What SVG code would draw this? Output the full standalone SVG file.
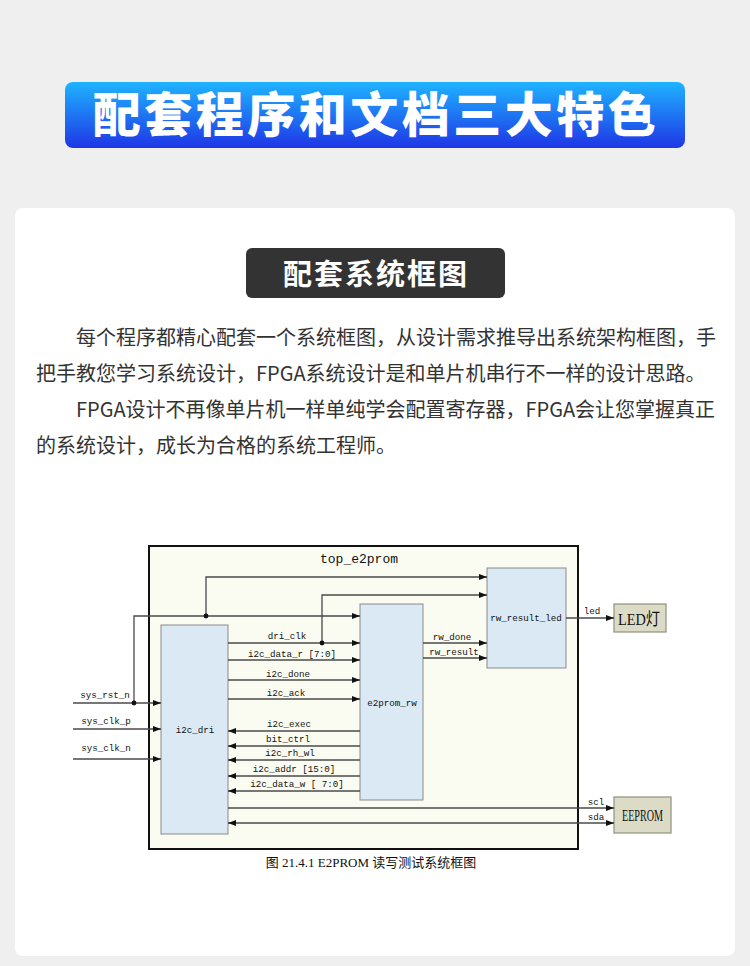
<svg xmlns="http://www.w3.org/2000/svg" width="750" height="966" viewBox="0 0 750 966">
<defs>
<linearGradient id="bannerGrad" x1="0" y1="0" x2="0" y2="1">
<stop offset="0" stop-color="#1fb4ff"/>
<stop offset="1" stop-color="#1e36e6"/>
</linearGradient>
<marker id="arr" markerUnits="userSpaceOnUse" markerWidth="8" markerHeight="6" refX="8" refY="3" orient="auto-start-reverse">
<path d="M0,0 L8,3 L0,6 z" fill="#111"/>
</marker>
<style>
.cjk{font-family:"Noto Sans CJK SC","Noto Sans",sans-serif;}
.para{font-family:"Noto Sans CJK SC","Noto Sans",sans-serif;font-size:20px;fill:#333;}
.sig{font-family:"Liberation Mono","DejaVu Sans Mono",monospace;font-size:9.2px;fill:#111;text-anchor:middle;}
.box{fill:#dae9f3;stroke:#8a8a8a;stroke-width:1;}
.ext{fill:#dcdcc6;stroke:#8f8f80;stroke-width:1.2;}
.w{fill:none;stroke:#4a4a4a;stroke-width:1.3;}
.wa{fill:none;stroke:#4a4a4a;stroke-width:1.3;marker-end:url(#arr);}
.dot{fill:#111;}
.ser{font-family:"Liberation Serif","Noto Sans CJK SC",serif;fill:#111;}
</style>
</defs>
<rect x="0" y="0" width="750" height="966" fill="#efefef"/>
<g id="banner">
<rect x="65" y="82" width="620" height="66" rx="8" fill="url(#bannerGrad)"/>
<text x="376" y="132" text-anchor="middle" class="cjk" font-size="48" font-weight="900" fill="#fff" letter-spacing="3.5">配套程序和文档三大特色</text>
</g>
<rect x="15" y="208" width="720" height="748" rx="8" fill="#fff"/>
<g id="sectionLabel">
<rect x="246" y="248" width="259" height="50" rx="6" fill="#333"/>
<text x="376" y="285" text-anchor="middle" class="cjk" font-size="29" font-weight="700" fill="#fff" letter-spacing="2">配套系统框图</text>
</g>
<g id="paragraphs">
<text class="para" x="76" y="345">每个程序都精心配套一个系统框图，从设计需求推导出系统架构框图，手</text>
<text class="para" x="36" y="381">把手教您学习系统设计，FPGA系统设计是和单片机串行不一样的设计思路。</text>
<text class="para" x="76" y="417">FPGA设计不再像单片机一样单纯学会配置寄存器，FPGA会让您掌握真正</text>
<text class="para" x="36" y="453">的系统设计，成长为合格的系统工程师。</text>
</g>
<g id="top_e2prom">
<rect x="149" y="546" width="429" height="303" fill="#fafcf2" stroke="#111" stroke-width="2"/>
<text x="359" y="563" class="sig" style="font-size:13px">top_e2prom</text>
</g>
<g id="i2c_dri">
<rect class="box" x="161" y="625" width="67" height="209"/>
<text class="sig" x="195" y="733">i2c_dri</text>
</g>
<g id="e2prom_rw">
<rect class="box" x="360" y="604" width="63" height="196"/>
<text class="sig" x="392" y="706">e2prom_rw</text>
</g>
<g id="rw_result_led">
<rect class="box" x="487" y="568" width="79" height="100"/>
<text class="sig" x="526" y="621">rw_result_led</text>
</g>
<g id="led_lamp">
<rect class="ext" x="614" y="604" width="52" height="28"/>
<text class="ser" x="639" y="625" font-size="17" text-anchor="middle" textLength="42" lengthAdjust="spacingAndGlyphs">LED灯</text>
</g>
<g id="eeprom">
<rect class="ext" x="614" y="797" width="57" height="36"/>
<text class="ser" x="642.5" y="821" font-size="17" text-anchor="middle" textLength="41" lengthAdjust="spacingAndGlyphs">EEPROM</text>
</g>
<g id="connectors">
<path class="wa" d="M73,703 H161"/>
<path class="wa" d="M134,703 V616 H360"/>
<path class="wa" d="M206,616 V577 H487"/>
<path class="wa" d="M73,729 H161"/>
<path class="wa" d="M73,759 H161"/>
<path class="wa" d="M228,643 H360"/>
<path class="wa" d="M322,643 V595 H487"/>
<path class="wa" d="M228,660 H360"/>
<path class="wa" d="M228,680 H360"/>
<path class="wa" d="M228,699 H360"/>
<path class="wa" d="M360,731 H228"/>
<path class="wa" d="M360,746 H228"/>
<path class="wa" d="M360,760 H228"/>
<path class="wa" d="M360,776 H228"/>
<path class="wa" d="M360,791 H228"/>
<path class="wa" d="M228,808 H614"/>
<path class="wa" d="M228,823 H614" style="marker-start:url(#arr)"/>
<path class="wa" d="M423,643 H487"/>
<path class="wa" d="M423,658 H487"/>
<path class="wa" d="M566,618 H614"/>
<circle class="dot" cx="134" cy="703" r="2.4"/>
<circle class="dot" cx="206" cy="616" r="2.4"/>
<circle class="dot" cx="322" cy="643" r="2.4"/>
<text class="sig" x="105" y="698">sys_rst_n</text>
<text class="sig" x="106" y="724">sys_clk_p</text>
<text class="sig" x="106" y="751">sys_clk_n</text>
<text class="sig" x="287" y="639">dri_clk</text>
<text class="sig" x="292" y="657">i2c_data_r [7:0]</text>
<text class="sig" x="288" y="677">i2c_done</text>
<text class="sig" x="286" y="696">i2c_ack</text>
<text class="sig" x="289" y="727">i2c_exec</text>
<text class="sig" x="288" y="742">bit_ctrl</text>
<text class="sig" x="290" y="756">i2c_rh_wl</text>
<text class="sig" x="294" y="772">i2c_addr [15:0]</text>
<text class="sig" x="297" y="787">i2c_data_w [ 7:0]</text>
<text class="sig" x="452" y="640">rw_done</text>
<text class="sig" x="454" y="655">rw_result</text>
<text class="sig" x="592" y="614">led</text>
<text class="sig" x="596" y="805">scl</text>
<text class="sig" x="596" y="820">sda</text>
</g>
<text id="caption" x="371" y="867" text-anchor="middle" class="ser" font-size="13" fill="#222">图 21.4.1 E2PROM 读写测试系统框图</text>
</svg>
